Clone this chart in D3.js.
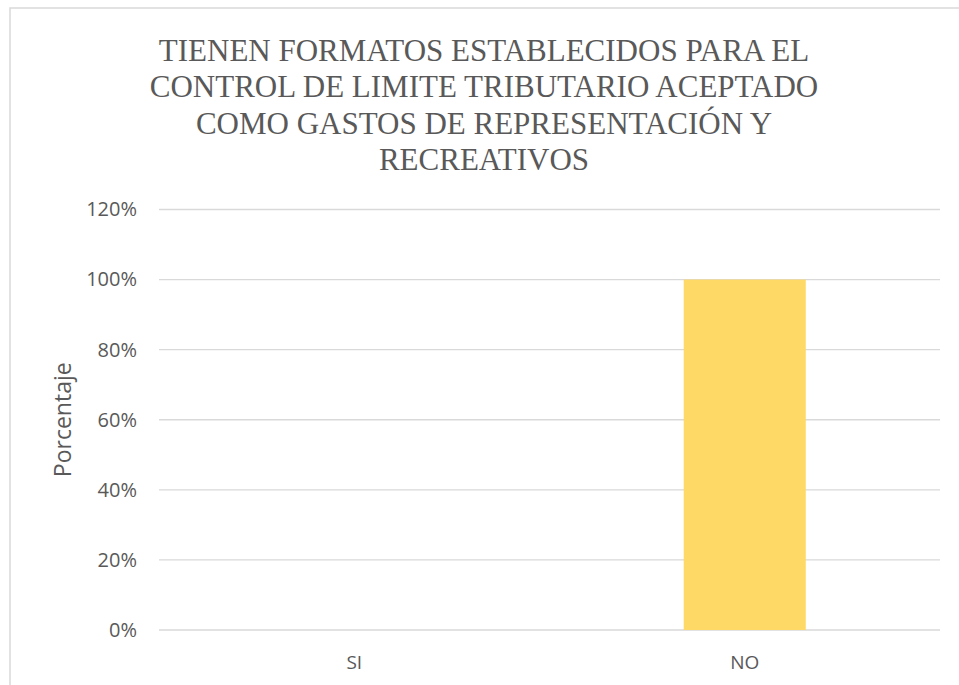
<!DOCTYPE html>
<html><head><meta charset="utf-8">
<script src="https://cdn.jsdelivr.net/npm/d3@7"></script>
<style>html,body{margin:0;padding:0;background:#fff;}</style>
</head><body>
<svg id="chart" width="959" height="685"></svg>
<script>
const titleLines = ["TIENEN FORMATOS ESTABLECIDOS PARA EL","CONTROL DE LIMITE TRIBUTARIO ACEPTADO","COMO GASTOS DE REPRESENTACIÓN Y","RECREATIVOS"];
const categories = ["SI","NO"];
const values = [0, 1.0];
const yTicks = [0,0.2,0.4,0.6,0.8,1.0,1.2];
const yLabel = "Porcentaje";

const svg = d3.select("#chart");
const m = {left:159, right:940, top:209.5, bottom:630};
// chart border
svg.append("rect").attr("x",10).attr("y",8).attr("width",1000).attr("height",1000)
  .attr("fill","none").attr("stroke","#d9d9d9").attr("stroke-width",1.5);

const x = d3.scaleBand().domain(categories).range([m.left,m.right]).padding(0);
const y = d3.scaleLinear().domain([0,1.2]).range([m.bottom,m.top]);

// gridlines
svg.append("g").selectAll("line").data(yTicks).join("line")
  .attr("x1",m.left).attr("x2",m.right)
  .attr("y1",d=>y(d)).attr("y2",d=>y(d))
  .attr("stroke","#d9d9d9").attr("stroke-width",1.3);

// y tick labels via axis
const yAxis = d3.axisLeft(y).tickValues(yTicks).tickFormat(d3.format(".0%")).tickSize(0).tickPadding(0);
const ga = svg.append("g").attr("transform",`translate(137,0)`).call(yAxis);
ga.select(".domain").remove();
ga.selectAll("text").attr("fill","#595959").style("font-family","'Open Sans'").style("font-size","20px");

// bars
const bw = x.bandwidth()*0.3125;
svg.append("g").selectAll("rect").data(categories.map((c,i)=>({c,v:values[i]}))).join("rect")
  .attr("x",d=>x(d.c)+x.bandwidth()/2-bw/2).attr("width",bw)
  .attr("y",d=>y(d.v)).attr("height",d=>y(0)-y(d.v))
  .attr("fill","#FFD966");

// x axis labels
const xAxis = d3.axisBottom(x).tickSize(0).tickPadding(0);
const gx = svg.append("g").attr("transform",`translate(0,${m.bottom+32.5})`).call(xAxis);
gx.select(".domain").remove();
gx.selectAll("text").attr("fill","#595959").attr("dy","0.35em").attr("y",0)
  .style("font-family","'Open Sans'").style("font-size","19px");

// y label
svg.append("text").attr("transform",`translate(63,${(m.top+m.bottom)/2}) rotate(-90)`)
  .attr("text-anchor","middle").attr("dy","0.35em").attr("fill","#595959")
  .style("font-family","'Open Sans'").style("font-size","23px").text(yLabel);

// title
svg.append("g").selectAll("text").data(titleLines).join("text")
  .attr("x",484).attr("y",(d,i)=>50+i*36.5).attr("dy","0.35em")
  .attr("text-anchor","middle").attr("fill","#595959")
  .style("font-family","'Liberation Serif'").style("font-size","31px")
  .text(d=>d);
</script>
</body></html>
